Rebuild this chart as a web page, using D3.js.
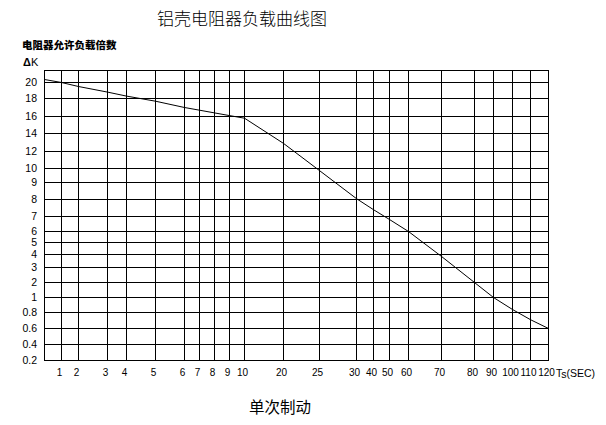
<!DOCTYPE html>
<html>
<head>
<meta charset="utf-8">
<script src="https://cdn.jsdelivr.net/npm/d3@7"></script>
<style>
  body { margin: 0; background: #fff; }
  svg { display: block; }
  .tick line { stroke: #000; }
  .tick text { fill: #000; font-family: "Liberation Sans", Arial, sans-serif; font-size: 10.5px; }
  .xAxisG .tick text { font-size: 10px; }
</style>
</head>
<body>
<div id="chart"></div>
<script>
// time categories on the x axis (seconds)
const xCategories = [1, 2, 3, 4, 5, 6, 7, 8, 9, 10, 20, 25, 30, 40, 50, 60, 70, 80, 90, 100, 110, 120];
// load multiple labels on the y axis
const yTickValues = [20, 18, 16, 14, 12, 10, 9, 8, 7, 6, 5, 4, 3, 2, 1, 0.8, 0.6, 0.4, 0.2];
const yTopValue = 22; // unlabeled top row of the grid

// curve: time -> allowed load multiple K
const curveTime = [0, 1, 2, 3, 4, 5, 6, 7, 8, 9, 10, 20, 25, 30, 40, 50, 60, 70, 80, 90, 100, 110, 120];
const curveK = [20.5, 20, 19.5, 18.8, 18.3, 17.7, 17.0, 16.7, 16.4, 16.1, 15.8, 12.9, 9.85, 8.05, 7.4, 6.8, 6.0, 3.85, 2.0, 1.0, 0.84, 0.71, 0.6];

// the printed grid is not evenly spaced: relative column / row widths
const colWeights = [17, 17, 29, 19, 29, 29, 15, 15, 15, 15, 39, 36, 37, 17, 16, 19, 33, 33, 19, 19, 18, 18];
const rowWeights = [12, 16, 18, 17, 18, 17, 14, 17, 17, 15, 11, 12, 13, 15, 15, 15, 16, 16, 16];

const W = 606, H = 425;
const margin = {top: 70, right: 58, bottom: 65, left: 44};
const width = W - margin.left - margin.right;
const height = H - margin.top - margin.bottom;

// cumulative edges from weights
function edges(weights, size) {
    const total = d3.sum(weights);
    let acc = 0;
    return [0].concat(weights.map(w => Math.round((acc += w) / total * size)));
}

const svg = d3.select("#chart").append("svg")
    .attr("width", W)
    .attr("height", H);

// titles
svg.append("text")
    .attr("x", 157).attr("y", 25)
    .style("font-family", "'Noto Sans CJK SC', sans-serif")
    .style("font-size", "17px")
    .style("font-weight", 300)
    .text("铝壳电阻器负载曲线图");

svg.append("text")
    .attr("x", 22).attr("y", 49)
    .style("font-family", "'Noto Sans CJK SC', sans-serif")
    .style("font-size", "10.5px")
    .style("font-weight", "900")
    .text("电阻器允许负载倍数");

const dk = svg.append("text")
    .attr("x", 23).attr("y", 66)
    .style("font-family", "'Liberation Sans', Arial, sans-serif")
    .style("font-size", "11px");
dk.append("tspan").style("font-weight", "bold").text("Δ");
dk.append("tspan").text("K");

svg.append("text")
    .attr("x", 249).attr("y", 413)
    .style("font-family", "'Noto Sans CJK SC', sans-serif")
    .style("font-size", "15.5px")
    .text("单次制动");

const g = svg.append("g")
    .attr("transform", "translate(" + margin.left + "," + margin.top + ")");

// scales: piecewise linear over the printed grid
const xScale = d3.scaleLinear()
    .domain([0].concat(xCategories))
    .range(edges(colWeights, width));

const yScale = d3.scaleLinear()
    .domain([yTopValue].concat(yTickValues))
    .range(edges(rowWeights, height));

// x grid + labels
g.append("g")
    .attr("class", "xAxisG")
    .attr("transform", "translate(0," + height + ")")
    .call(d3.axisBottom(xScale)
        .tickValues(xCategories)
        .tickSize(-height)
        .tickPadding(9)
        .tickFormat(d => d))
    .call(a => a.select(".domain").remove())
    .call(a => a.selectAll(".tick text").attr("dx", -2));

// y grid + labels
g.append("g")
    .attr("class", "yAxisG")
    .call(d3.axisLeft(yScale)
        .tickValues(yTickValues)
        .tickSize(-width)
        .tickPadding(7)
        .tickFormat(d => d))
    .call(a => a.select(".domain").remove());

// frame
g.append("rect")
    .attr("x", 0.5).attr("y", 0.5)
    .attr("width", width).attr("height", height)
    .attr("fill", "none")
    .attr("stroke", "#000")
    .attr("shape-rendering", "crispEdges");

// unit label after the last x tick
const unit = g.append("text")
    .attr("x", width + 8)
    .attr("y", height + 17)
    .style("font-family", "'Liberation Sans', Arial, sans-serif")
    .style("font-size", "10.5px");
unit.append("tspan").text("T");
unit.append("tspan").attr("dy", 1).text("s");
unit.append("tspan").attr("dy", -1).text("(SEC)");

// load curve
const line = d3.line()
    .x(i => xScale(curveTime[i]) + 0.5)
    .y(i => yScale(curveK[i]) + 0.5);

g.append("path")
    .datum(d3.range(curveTime.length))
    .attr("fill", "none")
    .attr("stroke", "#000")
    .attr("stroke-width", 1)
    .attr("d", line);
</script>
</body>
</html>
